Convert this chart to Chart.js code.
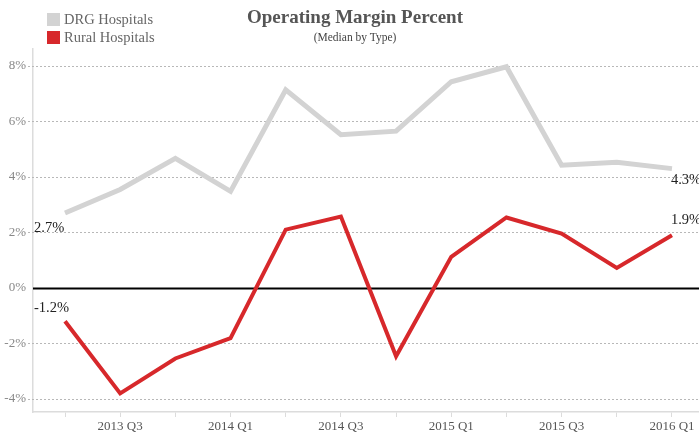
<!DOCTYPE html>
<html>
<head>
<meta charset="utf-8">
<script src="https://cdn.jsdelivr.net/npm/chart.js@4"></script>
<style>
  html,body{margin:0;padding:0;background:#fff;}
  #wrap{position:relative;width:699px;height:435px;font-family:"Liberation Serif","DejaVu Serif",serif;}
  #chart{position:absolute;left:0;top:0;}
  .title{position:absolute;left:0;width:710px;text-align:center;color:#555;}
  #t1{top:6px;font-size:19px;font-weight:bold;}
  #t2{top:31px;font-size:11.5px;color:#444;}
  .leg{position:absolute;left:47px;font-size:14.5px;color:#666;line-height:13px;}
  .leg span{display:inline-block;width:13px;height:13px;vertical-align:top;margin-right:4px;}
</style>
</head>
<body>
<div id="wrap">
  <canvas id="chart" width="699" height="435"></canvas>
  <div class="title" id="t1">Operating Margin Percent</div>
  <div class="title" id="t2">(Median by Type)</div>
  <div class="leg" style="top:13px"><span style="background:#d3d3d3"></span>DRG Hospitals</div>
  <div class="leg" style="top:31px"><span style="background:#d7282b"></span>Rural Hospitals</div>
</div>
<script>
// 季度
const quarters = ['2013 Q2','2013 Q3','2013 Q4','2014 Q1','2014 Q2','2014 Q3','2014 Q4','2015 Q1','2015 Q2','2015 Q3','2015 Q4','2016 Q1'];
// 中位數 (%)
const drgValues = [2.7, 3.55, 4.67, 3.48, 7.14, 5.52, 5.65, 7.43, 7.97, 4.42, 4.53, 4.3];
const ruralValues = [-1.2, -3.8, -2.54, -1.81, 2.1, 2.57, -2.46, 1.12, 2.54, 1.96, 0.72, 1.9];
const yTicks = [-4, -2, 0, 2, 4, 6, 8];

const ctx = document.getElementById('chart').getContext('2d');
const font = '"Liberation Serif", "DejaVu Serif", serif';
const toPoints = vals => vals.map((v, i) => ({x: i, y: v}));

// 格線 (虛線, 0% 實線)
const gridPlugin = {
  id: 'grid',
  beforeDatasetsDraw(chart) {
    const c = chart.ctx, y = chart.scales.y, a = chart.chartArea;
    c.save();
    yTicks.forEach(v => {
      const py = Math.round(y.getPixelForValue(v)) + 0.5;
      c.beginPath();
      if (v === 0) {
        c.setLineDash([]);
        c.strokeStyle = '#000';
        c.lineWidth = 2;
        c.moveTo(a.left, py); c.lineTo(a.right, py);
      } else {
        c.setLineDash([2, 2]);
        c.strokeStyle = '#b8b8b8';
        c.lineWidth = 1;
        c.moveTo(a.left - 5, py); c.lineTo(a.right, py);
      }
      c.stroke();
    });
    c.restore();
  }
};

// 首尾數值標籤
const labelPlugin = {
  id: 'endLabels',
  afterDatasetsDraw(chart) {
    const c = chart.ctx, a = chart.chartArea;
    c.save();
    c.font = '14.5px ' + font;
    c.fillStyle = '#222';
    c.textAlign = 'left';
    c.textBaseline = 'middle';
    const cfg = [{ds: 0, first: 15, last: 12}, {ds: 1, first: -13, last: -15}];
    cfg.forEach(o => {
      const meta = chart.getDatasetMeta(o.ds);
      const vals = o.ds === 0 ? drgValues : ruralValues;
      const p0 = meta.data[0], pn = meta.data[vals.length - 1];
      c.fillText(vals[0].toFixed(1) + '%', a.left + 1, p0.y + o.first);
      c.fillText(vals[vals.length - 1].toFixed(1) + '%', pn.x - 1, pn.y + o.last);
    });
    c.restore();
  }
};

new Chart(ctx, {
  type: 'line',
  data: {
    datasets: [
      {label: 'DRG Hospitals', data: toPoints(drgValues), borderColor: '#d3d3d3', borderWidth: 5, pointRadius: 0, tension: 0},
      {label: 'Rural Hospitals', data: toPoints(ruralValues), borderColor: '#d7282b', borderWidth: 4, pointRadius: 0, tension: 0}
    ]
  },
  options: {
    responsive: false,
    animation: false,
    layout: {padding: {top: 49, right: 0, left: 0, bottom: 0}},
    plugins: {legend: {display: false}, tooltip: {enabled: false}},
    scales: {
      x: {
        type: 'linear',
        min: -0.58, max: 11.49,
        afterBuildTicks: s => { s.ticks = quarters.map((q, i) => ({value: i})); },
        grid: {display: true, drawOnChartArea: false, drawTicks: true, tickLength: 5, color: '#dcdcdc'},
        border: {color: '#dcdcdc', width: 1.5},
        ticks: {
          autoSkip: false, maxRotation: 0, padding: 2,
          color: '#555', font: {family: font, size: 13},
          callback: v => v % 2 === 1 ? quarters[v] : ''
        },
        afterFit: s => { s.height = 23; }
      },
      y: {
        min: -4.47, max: 8.61,
        afterBuildTicks: s => { s.ticks = yTicks.map(v => ({value: v})); },
        grid: {display: false, drawTicks: false},
        border: {color: '#dcdcdc', width: 1.5},
        ticks: {
          padding: 7, color: '#888', font: {family: font, size: 13},
          callback: v => v + '%'
        },
        afterFit: s => { s.width = 33; }
      }
    }
  },
  plugins: [gridPlugin, labelPlugin]
});
</script>
</body>
</html>
